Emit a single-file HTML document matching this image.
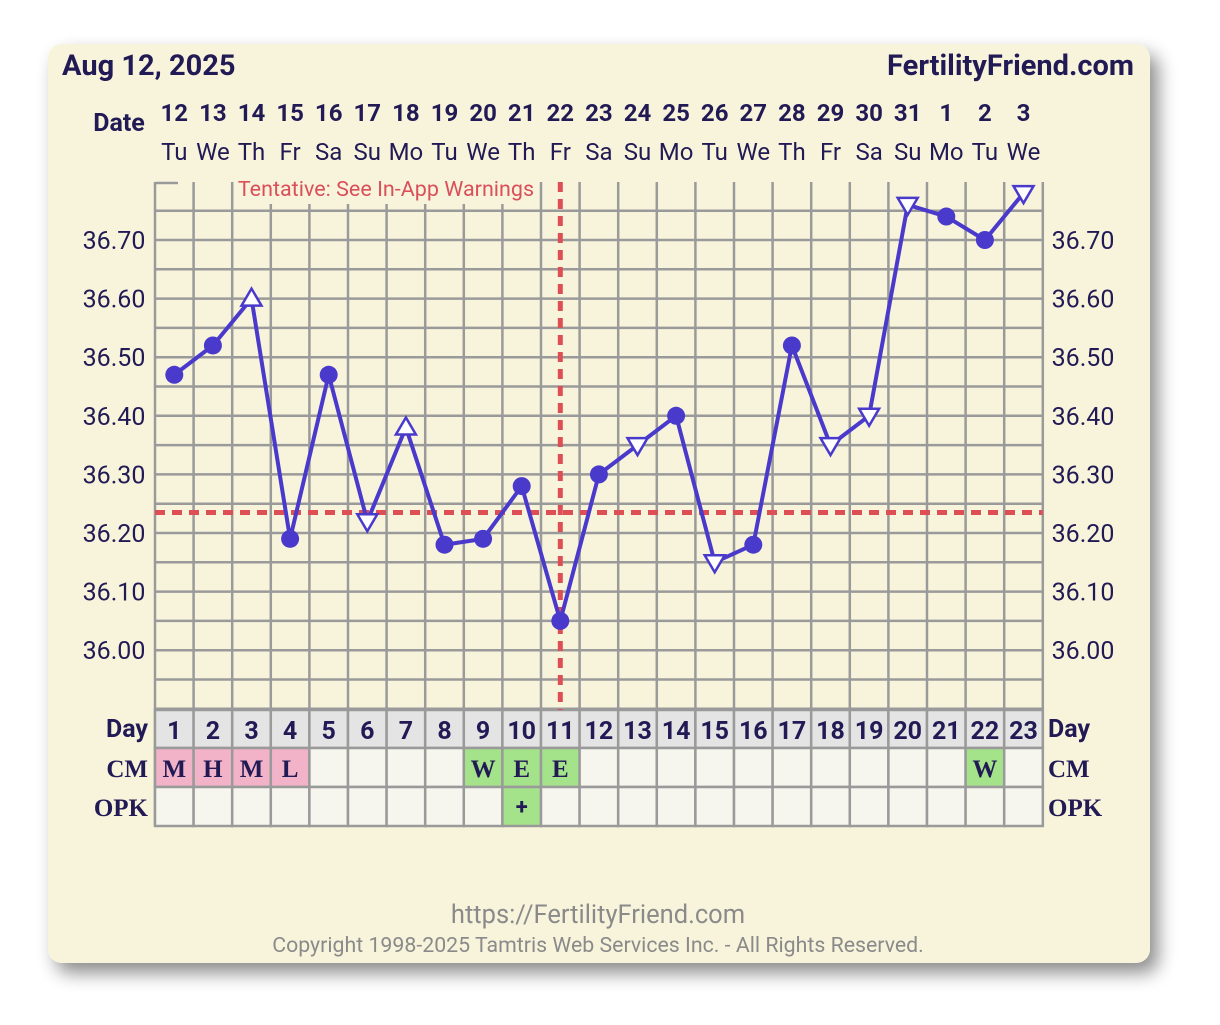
<!DOCTYPE html>
<html><head><meta charset="utf-8"><style>
body{margin:0;background:#fff;width:1220px;height:1025px;overflow:hidden}
svg{position:absolute;left:0;top:0}
</style></head><body>
<svg id="s" width="1220" height="1025" xmlns="http://www.w3.org/2000/svg" font-family="Roboto, 'Liberation Sans', sans-serif">
<defs><filter id="sh" x="-10%" y="-10%" width="130%" height="130%"><feDropShadow dx="8" dy="10" stdDeviation="9" flood-color="#000" flood-opacity="0.45"/></filter></defs>
<rect x="48" y="44" width="1102" height="919" rx="14" fill="#f8f4dc" filter="url(#sh)"/>
<text x="62" y="75" font-size="29" font-weight="bold" fill="#221a55">Aug 12, 2025</text>
<text x="1134" y="75" font-size="29" font-weight="bold" fill="#221a55" text-anchor="end">FertilityFriend.com</text>
<text x="119" y="131" font-size="25" font-weight="bold" fill="#221a55" text-anchor="middle">Date</text>
<g id="g"></g>
<text x="598" y="923" font-size="25.5" fill="#8a8a8a" text-anchor="middle">https://FertilityFriend.com</text>
<text x="598" y="952" font-size="21.3" fill="#8a8a8a" text-anchor="middle">Copyright 1998-2025 Tamtris Web Services Inc. - All Rights Reserved.</text>
</svg>
<script>
const dates=[12,13,14,15,16,17,18,19,20,21,22,23,24,25,26,27,28,29,30,31,1,2,3];
const weekdays=["Tu","We","Th","Fr","Sa","Su","Mo","Tu","We","Th","Fr","Sa","Su","Mo","Tu","We","Th","Fr","Sa","Su","Mo","Tu","We"];
const temps=[36.47,36.52,36.60,36.19,36.47,36.22,36.38,36.18,36.19,36.28,36.05,36.30,36.35,36.40,36.15,36.18,36.52,36.35,36.40,36.76,36.74,36.70,36.78];
const markers=["c","c","u","c","c","d","u","c","c","c","c","c","d","c","d","c","c","d","d","d","c","c","d"];
const cm=["M","H","M","L","","","","","W","E","E","","","","","","","","","","","W",""];
const opk=["","","","","","","","","","+","","","","","","","","","","","","",""];
const yTicks=[36.70,36.60,36.50,36.40,36.30,36.20,36.10,36.00];
const coverline=36.235, ovDay=11;
const NS="http://www.w3.org/2000/svg",g=document.getElementById('g');
const X0=155,CW=38.6;
const x=i=>X0+CW*(i+0.5);
const y=t=>240+(36.70-t)*586;
function el(tag,a,p){const e=document.createElementNS(NS,tag);for(const k in a)e.setAttribute(k,a[k]);(p||g).appendChild(e);return e;}
function txt(s,a){const e=el('text',a);e.textContent=s;return e;}
const col='#221a55',grid='#9a9a9a';
dates.forEach((d,i)=>{
 const t=txt(d,{x:x(i),y:121,'font-size':24,'font-weight':'bold',fill:col,'text-anchor':'middle'});
 
 
 const w=txt(weekdays[i],{x:x(i),y:160,'font-size':24,fill:col,'text-anchor':'middle'});
 
 
});
for(let k=0;k<=17;k++){const yy=y(36.75-k*0.05);el('line',{x1:X0,x2:X0+CW*23,y1:yy,y2:yy,stroke:grid,'stroke-width':2.5});}
el('line',{x1:X0,x2:178,y1:183,y2:183,stroke:grid,'stroke-width':2.5});
for(let i=0;i<=23;i++){const xx=X0+CW*i;el('line',{x1:xx,x2:xx,y1:182,y2:826,stroke:grid,'stroke-width':2.5});}
const wb=el('rect',{x:236,y:176,width:300,height:28,fill:'#f8f4dc'});


const warn=txt('Tentative: See In-App Warnings',{x:386,y:196,'font-size':21.5,fill:'#d9505a','text-anchor':'middle'});


yTicks.forEach(t=>{
 const a=txt(t.toFixed(2),{x:114,y:y(t)+9,'font-size':25,fill:col,'text-anchor':'middle'});
 
 
 const b=txt(t.toFixed(2),{x:1083,y:y(t)+9,'font-size':25,fill:col,'text-anchor':'middle'});
 
 
});
for(let i=0;i<23;i++){
 const xx=X0+CW*i;
 el('rect',{x:xx,y:710,width:CW,height:38,fill:'#e4e4e4',stroke:grid,'stroke-width':2.5});
 const cf=cm[i]==='M'||cm[i]==='H'||cm[i]==='L'?'#f2b3c8':(cm[i]?'#a4e38a':'#f6f6ef');
 el('rect',{x:xx,y:748,width:CW,height:39,fill:cf,stroke:grid,'stroke-width':2.5});
 el('rect',{x:xx,y:787,width:CW,height:39,fill:opk[i]?'#a4e38a':'#f6f6ef',stroke:grid,'stroke-width':2.5});
 const d=txt(i+1,{x:x(i),y:739,'font-size':25,'font-weight':'bold',fill:col,'text-anchor':'middle'});
 
 
 if(cm[i]){const c=txt(cm[i],{x:x(i),y:777,'font-size':25,'font-weight':'bold','font-family':"'Liberation Serif',serif",fill:col,'text-anchor':'middle'});
  
  }
 if(opk[i]){const o=txt(opk[i],{x:x(i),y:814,'font-size':22,'font-weight':'bold',fill:col,'text-anchor':'middle'});
  
  }
}
[['Day',737,'sans'],['CM',777,'serif'],['OPK',816,'serif']].forEach(r=>{
 const f=r[2]==='serif'?"'Liberation Serif',serif":"inherit";
 const a=txt(r[0],{x:148,y:r[1],'font-size':25,'font-weight':'bold',fill:col,'text-anchor':'end','font-family':f});
 
 
 const b=txt(r[0],{x:1048,y:r[1],'font-size':25,'font-weight':'bold',fill:col,'font-family':f});
 
 
});
const cl=el('line',{x1:X0,x2:X0+CW*23,y1:y(coverline),y2:y(coverline),stroke:'#dd4f55','stroke-width':5,'stroke-dasharray':'10 7'});


const ov=el('line',{x1:x(ovDay-1),x2:x(ovDay-1),y1:182,y2:710,stroke:'#dd4f55','stroke-width':5,'stroke-dasharray':'10 7'});


const pl=el('polyline',{points:temps.map((t,i)=>x(i)+','+y(t)).join(' '),fill:'none',stroke:'#4a3acc','stroke-width':4,'stroke-linejoin':'round'});


temps.forEach((t,i)=>{
 const cx=x(i),cy=y(t);let m;
 if(markers[i]==='c')m=el('circle',{cx:cx,cy:cy,r:9,fill:'#4a3acc'});
 else if(markers[i]==='u')m=el('polygon',{points:`${cx},${cy-10} ${cx-10},${cy+7} ${cx+10},${cy+7}`,fill:'#fff',stroke:'#4a3acc','stroke-width':2.5});
 else m=el('polygon',{points:`${cx},${cy+10} ${cx-10},${cy-7} ${cx+10},${cy-7}`,fill:'#fff',stroke:'#4a3acc','stroke-width':2.5});
 
 
});
</script>
</body></html>
